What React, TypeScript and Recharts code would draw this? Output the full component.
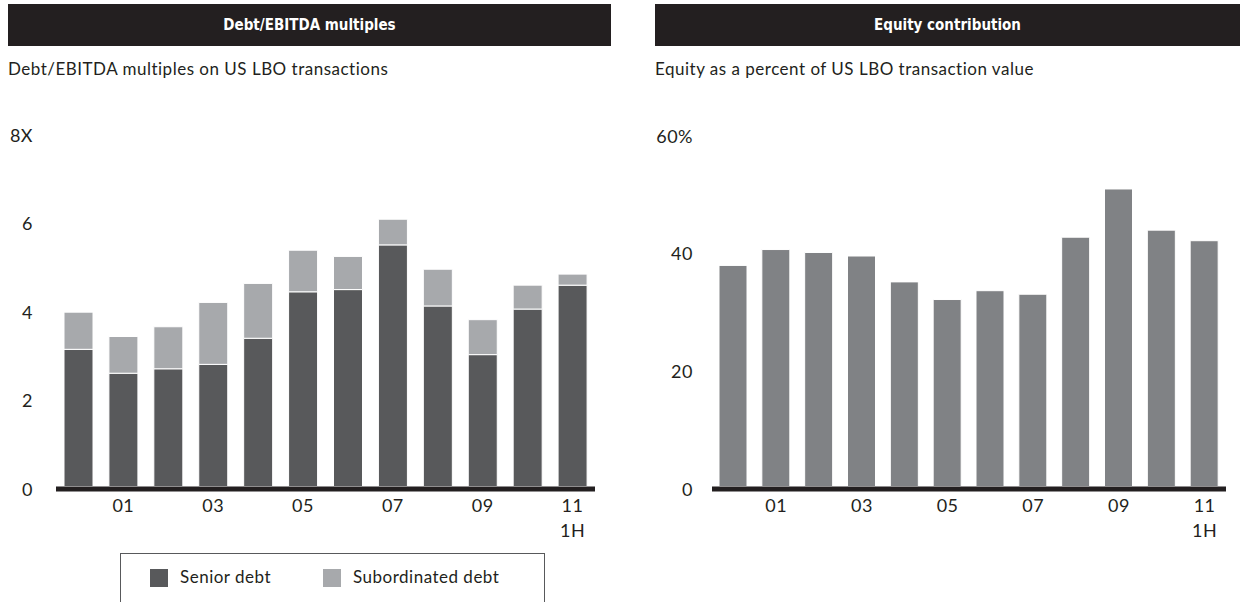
import React from 'react'
import { BarChart, Bar, XAxis, YAxis, ReferenceLine } from 'recharts'

// years 2000 .. 1H 2011
const years = ['00', '01', '02', '03', '04', '05', '06', '07', '08', '09', '10', '11']
const xLabels = ['', '01', '', '03', '', '05', '', '07', '', '09', '', '11']
const xSubLabels = ['', '', '', '', '', '', '', '', '', '', '', '1H']

const seniorDebt = [3.1, 2.56, 2.66, 2.76, 3.35, 4.4, 4.45, 5.46, 4.08, 2.98, 4.01, 4.55]
const subordinatedDebt = [0.84, 0.83, 0.95, 1.4, 1.24, 0.94, 0.75, 0.58, 0.83, 0.79, 0.54, 0.25]
const equityShare = [37.6, 40.3, 39.8, 39.2, 34.8, 31.8, 33.3, 32.7, 42.4, 50.6, 43.6, 41.8]

const debtTicks = [0, 2, 4, 6, 8]
const equityTicks = [0, 20, 40, 60]

const debtData = years.map((y, i) => ({ year: y, senior: seniorDebt[i], sub: subordinatedDebt[i] }))
const equityData = years.map((y, i) => ({ year: y, equity: equityShare[i] }))

const FONT = 'Lato, "Open Sans", sans-serif'
const INK = '#231f20'
const SENIOR = '#58595b'
const SUB = '#a7a9ac'
const EQUITY = '#808285'

const XTick = (props: any) => {
  const { x, y, payload } = props
  const i = payload.index
  return (
    <g>
      <text x={x} y={y} dy={25} textAnchor="middle" fill={INK} fontSize={18} fontFamily={FONT} letterSpacing={0.5}>
        {xLabels[i]}
      </text>
      {xSubLabels[i] && (
        <text x={x} y={y} dy={50} textAnchor="middle" fill={INK} fontSize={18} fontFamily={FONT} letterSpacing={0.5}>
          {xSubLabels[i]}
        </text>
      )}
    </g>
  )
}

const makeYTick = (labelX: number, top: number, suffix: string) => (props: any) => {
  const { y, payload } = props
  return (
    <text x={labelX} y={y} dy={9} textAnchor="end" fill={INK} fontSize={18} fontFamily={FONT} letterSpacing={0.5}>
      {payload.value === top ? `${payload.value}${suffix}` : payload.value}
    </text>
  )
}

const baseLine = (p: any) => (
  <rect x={p.x1} y={p.y1} width={p.x2 - p.x1} height={5} fill={INK} />
)

const Header = ({ left, width, title, subtitle }: { left: number; width: number; title: string; subtitle: string }) => (
  <>
    <div
      style={{
        position: 'absolute', left, top: 4, width, height: 42, background: INK, color: '#fff',
        display: 'flex', alignItems: 'center', justifyContent: 'center',
        fontFamily: '"Liberation Sans Narrow", "DejaVu Sans Condensed", sans-serif',
        fontWeight: 700, fontSize: 15,
      }}
    >
      {title}
    </div>
    <div style={{ position: 'absolute', left, top: 58, fontFamily: FONT, fontSize: 17, letterSpacing: 0.5, color: INK }}>
      {subtitle}
    </div>
  </>
)

export default function App() {
  return (
    <div style={{ position: 'absolute', left: 0, top: 0, width: 1248, height: 602, background: '#fff', overflow: 'hidden' }}>
      <Header left={8} width={603} title="Debt/EBITDA multiples" subtitle="Debt/EBITDA multiples on US LBO transactions" />
      <Header left={655} width={585} title="Equity contribution" subtitle="Equity as a percent of US LBO transaction value" />

      <div style={{ position: 'absolute', left: 0, top: 0 }}>
        <BarChart width={620} height={560} data={debtData} margin={{ top: 132.5, right: 25, bottom: 13.5, left: 0 }}>
          <XAxis dataKey="year" height={60} interval={0} axisLine={false} tickLine={false} tickSize={0} tickMargin={0} tick={XTick} />
          <YAxis width={56} domain={[0, 8]} ticks={debtTicks} axisLine={false} tickLine={false} tick={makeYTick(33, 8, 'X')} />
          <Bar dataKey="senior" stackId="d" fill={SENIOR} stroke="#fff" strokeWidth={1} barSize={29} isAnimationActive={false} />
          <Bar dataKey="sub" stackId="d" fill={SUB} stroke="#fff" strokeWidth={1} barSize={29} isAnimationActive={false} />
          <ReferenceLine y={0} shape={baseLine} />
        </BarChart>
      </div>

      <div style={{ position: 'absolute', left: 620, top: 0 }}>
        <BarChart width={628} height={560} data={equityData} margin={{ top: 133.7, right: 22, bottom: 13.5, left: 0 }}>
          <XAxis dataKey="year" height={60} interval={0} axisLine={false} tickLine={false} tickSize={0} tickMargin={0} tick={XTick} />
          <YAxis width={92} domain={[0, 60]} ticks={equityTicks} axisLine={false} tickLine={false} tick={makeYTick(73, 60, '%')} />
          <Bar dataKey="equity" fill={EQUITY} stroke="#fff" strokeWidth={1} barSize={28} isAnimationActive={false} />
          <ReferenceLine y={0} shape={baseLine} />
        </BarChart>
      </div>

      <div
        style={{
          position: 'absolute', left: 120, top: 553, width: 425, height: 70, border: '1px solid #58595b',
          boxSizing: 'border-box', fontFamily: FONT, fontSize: 17, letterSpacing: 0.5, color: INK,
        }}
      >
        <div style={{ position: 'absolute', left: 29, top: 15, width: 18, height: 18, background: SENIOR }} />
        <div style={{ position: 'absolute', left: 59, top: 12 }}>Senior debt</div>
        <div style={{ position: 'absolute', left: 202, top: 15, width: 18, height: 18, background: SUB }} />
        <div style={{ position: 'absolute', left: 232, top: 12 }}>Subordinated debt</div>
      </div>
    </div>
  )
}
